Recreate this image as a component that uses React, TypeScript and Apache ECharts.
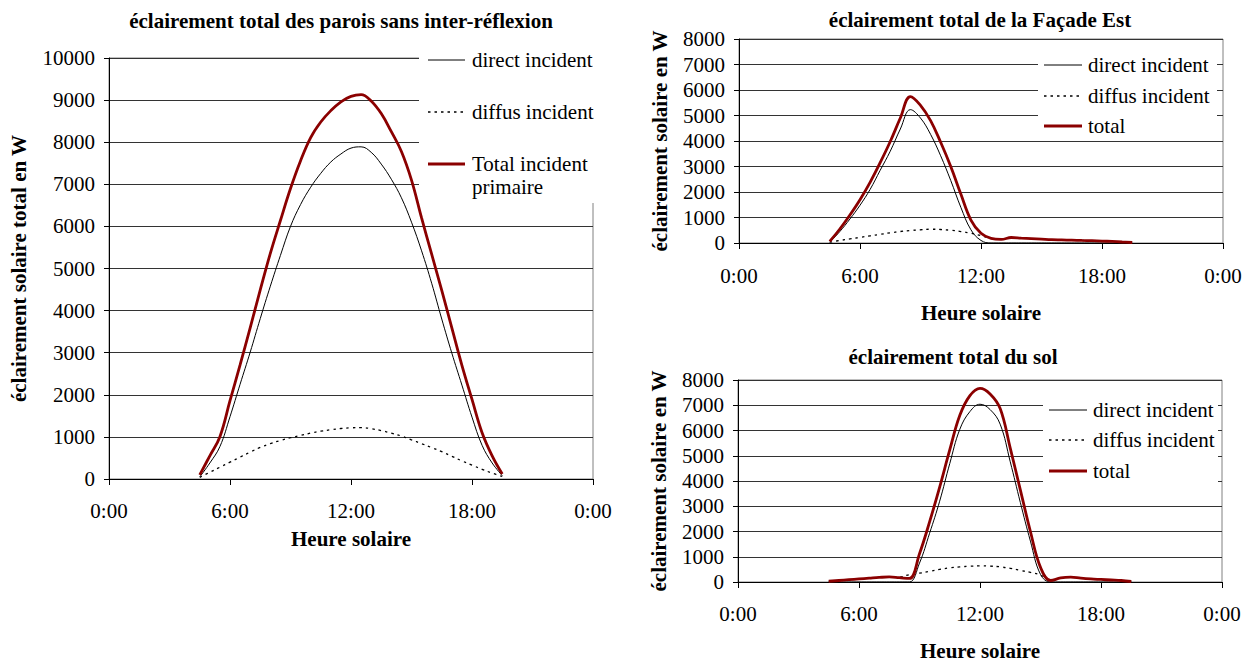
import React, { useEffect, useRef } from "react";
import * as echarts from "echarts";

// ---- data ----
const hours = [4.5, 5, 5.5, 6, 6.5, 7, 7.5, 8, 8.5, 9, 9.5, 10, 10.5, 11, 11.5, 12, 12.5, 13, 13.5, 14, 14.5, 15, 15.5, 16, 16.5, 17, 17.5, 18, 18.5, 19, 19.5];
const tickHours = [0, 6, 12, 18, 24];
const tickLabels = ["0:00", "6:00", "12:00", "18:00", "0:00"];

// chart 1 : parois sans inter-réflexion
const paroisDirect = [50, 380, 770, 1480, 2250, 3010, 3810, 4580, 5310, 6000, 6520, 6930, 7260, 7530, 7720, 7860, 7890, 7760, 7480, 7120, 6680, 6100, 5420, 4650, 3800, 2990, 2230, 1470, 800, 380, 80];
const paroisDiffus = [40, 160, 280, 400, 520, 640, 750, 840, 915, 980, 1035, 1090, 1135, 1170, 1200, 1215, 1220, 1195, 1150, 1090, 1020, 930, 840, 745, 650, 540, 430, 330, 230, 140, 60];
const paroisTotal = [100, 550, 1005, 1860, 2710, 3590, 4490, 5360, 6140, 6900, 7560, 8110, 8480, 8750, 8960, 9090, 9130, 8980, 8680, 8250, 7780, 7100, 6200, 5340, 4480, 3590, 2700, 1890, 1100, 550, 120];

// chart 2 : façade Est
const estDirect = [30, 450, 940, 1480, 2100, 2850, 3600, 4470, 5230, 4900, 4260, 3420, 2450, 1400, 520, 100, 0, 0, 0, 0, 0, 0, 0, 0, 0, 0, 0, 0, 0, 0, 0];
const estDiffus = [30, 100, 160, 220, 280, 340, 400, 450, 490, 520, 540, 530, 500, 450, 380, 290, 180, 140, 215, 190, 170, 150, 130, 120, 110, 100, 90, 75, 60, 40, 20];
const estTotal = [60, 550, 1100, 1700, 2380, 3150, 3980, 4900, 5740, 5400, 4800, 3950, 3000, 1920, 900, 380, 180, 140, 215, 190, 170, 150, 130, 120, 110, 100, 90, 75, 60, 40, 20];

// chart 3 : sol
const solDirect = [0, 0, 0, 0, 0, 0, 0, 0, 0, 750, 1930, 3200, 4690, 6050, 6750, 7040, 6830, 6250, 4760, 3150, 1620, 300, 0, 0, 0, 0, 0, 0, 0, 0, 0];
const solDiffus = [30, 60, 90, 120, 150, 180, 200, 200, 290, 350, 420, 500, 560, 600, 625, 640, 630, 600, 540, 460, 380, 280, 60, 160, 190, 150, 120, 100, 80, 60, 20];
const solTotal = [30, 60, 90, 120, 150, 180, 200, 170, 140, 1120, 2380, 3760, 5230, 6600, 7380, 7670, 7450, 6870, 5300, 3650, 2000, 580, 60, 160, 190, 150, 120, 100, 80, 60, 20];

const titles = [
  "éclairement total des parois sans inter-réflexion",
  "éclairement total de la Façade Est",
  "éclairement total du sol",
];
const yNames = ["éclairement solaire total en W", "éclairement solaire en W", "éclairement solaire en W"];
const yMax = [10000, 8000, 8000];
const xName = "Heure solaire";
const legend1 = ["direct incident", "diffus incident", "Total incident", "primaire"];
const legend23 = ["direct incident", "diffus incident", "total"];

const FONT = "Liberation Serif";
const RED = "#8b0000";

const grids = [
  { left: 109, top: 58, width: 484, height: 421 },
  { left: 739, top: 39, width: 484, height: 204 },
  { left: 738, top: 380, width: 484, height: 205 },
];
const yNameGaps = [80, 69, 69];
const xNameGaps = [49, 59, 58];
const xLabelMargins = [21, 22, 21];
const titlePos = [
  { x: 341, y: 10 },
  { x: 980, y: 9 },
  { x: 953, y: 346 },
];

function pairs(arr: number[]) {
  return hours.map((h, i) => [h, arr[i]]);
}

function buildOption() {
  const seriesSets = [
    [paroisDirect, paroisDiffus, paroisTotal],
    [estDirect, estDiffus, estTotal],
    [solDirect, solDiffus, solTotal],
  ];
  const names1 = ["direct incident", "diffus incident", "Total incident primaire"];
  const names23 = ["direct incident", "diffus incident", "total"];

  const series: any[] = [];
  seriesSets.forEach((set, gi) => {
    const names = gi === 0 ? names1 : names23;
    series.push({
      type: "line",
      name: names[0],
      xAxisIndex: gi,
      yAxisIndex: gi,
      data: pairs(set[0]),
      smooth: 0.4,
      showSymbol: false,
      symbol: "none",
      lineStyle: { color: "#000", width: 1 },
      z: 3,
    });
    series.push({
      type: "line",
      name: names[1],
      xAxisIndex: gi,
      yAxisIndex: gi,
      data: pairs(set[1]),
      smooth: 0.4,
      showSymbol: false,
      symbol: "none",
      lineStyle: { color: "#000", width: 1.3, type: [2.5, 4] },
      z: 3,
    });
    series.push({
      type: "line",
      name: names[2],
      xAxisIndex: gi,
      yAxisIndex: gi,
      data: pairs(set[2]),
      smooth: 0.4,
      showSymbol: false,
      symbol: "none",
      lineStyle: { color: RED, width: 2.8 },
      z: 4,
    });
  });

  const xAxis = grids.map((_, gi) => ({
    type: "value",
    gridIndex: gi,
    min: 0,
    max: 24,
    interval: 6,
    name: xName,
    nameLocation: "middle",
    nameGap: xNameGaps[gi],
    nameTextStyle: { fontFamily: FONT, fontSize: 21, fontWeight: "bold", color: "#000" },
    axisLine: { show: true, onZero: false, lineStyle: { color: "#000", width: 1 } },
    axisTick: { show: true, inside: false, length: 6, lineStyle: { color: "#000" } },
    axisLabel: {
      fontFamily: FONT,
      fontSize: 21,
      color: "#000",
      margin: xLabelMargins[gi],
      formatter: (v: number) => tickLabels[tickHours.indexOf(v)] ?? "",
    },
    splitLine: { show: false },
  }));

  const yAxis = grids.map((_, gi) => ({
    type: "value",
    gridIndex: gi,
    min: 0,
    max: yMax[gi],
    interval: 1000,
    name: yNames[gi],
    nameLocation: "middle",
    nameRotate: 90,
    nameGap: yNameGaps[gi],
    nameTextStyle: { fontFamily: FONT, fontSize: 21, fontWeight: "bold", color: "#000" },
    axisLine: { show: true, lineStyle: { color: "#000", width: 1 } },
    axisTick: { show: true, inside: false, length: 5, lineStyle: { color: "#000" } },
    axisLabel: {
      fontFamily: FONT,
      fontSize: 21,
      color: "#000",
      margin: 14,
      formatter: (v: number) => String(v),
    },
    splitLine: { show: true, lineStyle: { color: "#333", width: 1 } },
  }));

  const title = titles.map((t, i) => ({
    text: t,
    left: titlePos[i].x,
    top: titlePos[i].y,
    textAlign: "center",
    padding: 0,
    textStyle: { fontFamily: FONT, fontSize: 21, fontWeight: "bold", color: "#000" },
  }));

  // legends drawn as graphic elements
  const graphic: any[] = [];
  const textEl = (x: number, y: number, text: string) => ({
    type: "text",
    z: 101,
    x,
    y,
    style: {
      text,
      fontFamily: FONT,
      fontSize: 21,
      fill: "#000",
      align: "left",
      verticalAlign: "middle",
    },
  });
  const addLegend = (
    box: { x: number; y: number; w: number; h: number },
    lx1: number,
    lx2: number,
    tx: number,
    rows: number[],
    labels: string[],
    extra?: { text: string; y: number }
  ) => {
    graphic.push({
      type: "rect",
      z: 100,
      shape: { x: box.x, y: box.y, width: box.w, height: box.h },
      style: { fill: "#fff", stroke: null },
    });
    const styles = [
      { stroke: "#000", lineWidth: 1 },
      { stroke: "#000", lineWidth: 1.5, lineDash: [2.5, 4] },
      { stroke: RED, lineWidth: 3 },
    ];
    rows.forEach((ry, i) => {
      graphic.push({
        type: "line",
        z: 101,
        shape: { x1: lx1, y1: ry, x2: lx2, y2: ry },
        style: styles[i],
      });
      graphic.push(textEl(tx, ry, labels[i]));
    });
    if (extra) graphic.push(textEl(tx, extra.y, extra.text));
  };

  addLegend({ x: 419, y: 40, w: 190, h: 163 }, 428, 465, 472, [60, 112, 164], legend1, {
    text: legend1[3],
    y: 187,
  });
  addLegend({ x: 1038, y: 48, w: 179, h: 90 }, 1044, 1082, 1088, [65, 96, 126], legend23);
  addLegend({ x: 1043, y: 393, w: 175, h: 102 }, 1049, 1087, 1093, [410, 440, 471], legend23);

  return {
    animation: false,
    backgroundColor: "#fff",
    textStyle: { fontFamily: FONT },
    title,
    grid: grids.map((g) => ({ ...g, show: true, borderColor: "#808080", borderWidth: 1, backgroundColor: "transparent" })),
    xAxis,
    yAxis,
    series,
    graphic,
  };
}

export default function App() {
  const ref = useRef<HTMLDivElement>(null);
  useEffect(() => {
    if (!ref.current) return;
    const chart = echarts.init(ref.current, null, { renderer: "svg" });
    chart.setOption(buildOption() as any);
    return () => chart.dispose();
  }, []);
  return (
    <div
      ref={ref}
      style={{ position: "fixed", left: 0, top: 0, width: 1250, height: 662, background: "#fff" }}
    />
  );
}
